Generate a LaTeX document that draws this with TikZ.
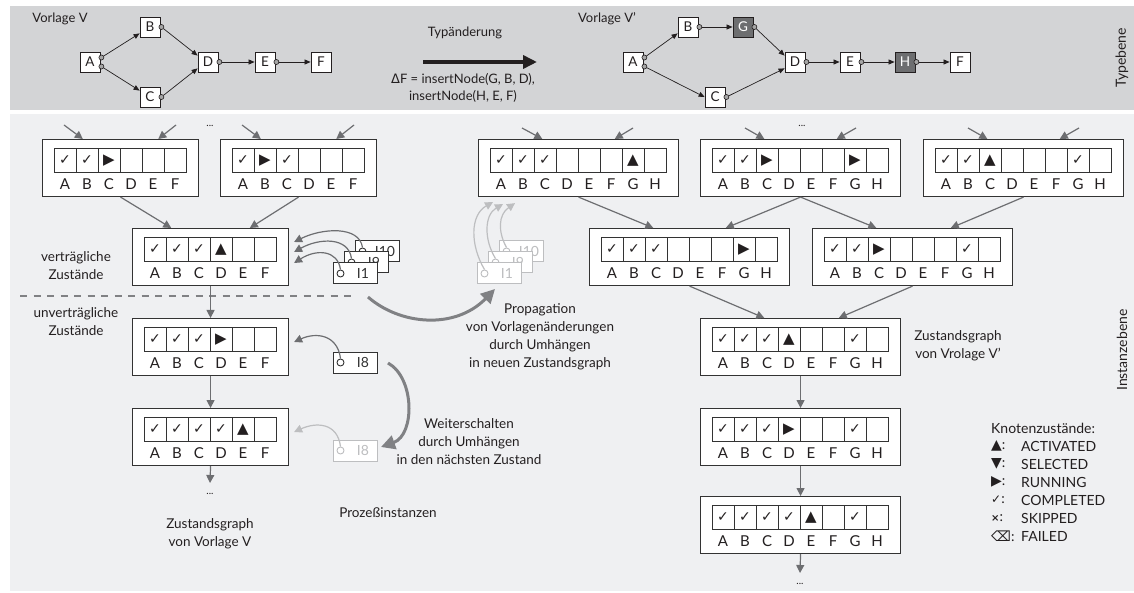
\documentclass[tikz,border=0pt]{standalone}
\usepackage{fontspec}
\setmainfont{Lato}
\newfontfamily\symf{DejaVu Sans}
\usetikzlibrary{arrows.meta,calc}

\definecolor{bandtop}{HTML}{D3D4D6}
\definecolor{bandlow}{HTML}{EFF0F2}
\definecolor{frame}{HTML}{333333}
\definecolor{conncol}{HTML}{6D6E71}
\definecolor{fade}{HTML}{BDBEC0}
\definecolor{bigcol}{HTML}{808184}
\definecolor{newnode}{HTML}{6D6E70}
\definecolor{ink}{HTML}{231F20}

% cell symbols of a state vector
\newcommand\zsc{{\symf\fontsize{14}{14}\selectfont ✓}}
\newcommand\zsr{{\symf\fontsize{15}{15}\selectfont ▶}}
\newcommand\zsa{{\symf\fontsize{15}{15}\selectfont ▲}}
\newcommand\zsn{}

\tikzset{
  stbox/.style={draw=frame, line width=1.1pt, fill=white, minimum height=57pt,
    inner sep=0pt, anchor=north west},
  cellline/.style={draw=frame, line width=0.8pt},
  letter/.style={font=\fontsize{15}{15}\selectfont, text=ink, inner sep=0pt},
  cellsym/.style={inner sep=0pt, text=ink},
  conn/.style={draw=conncol, line width=1.2pt, -{Triangle[length=8pt,width=8pt]}},
  ibox/.style={draw=frame, line width=1pt, fill=white, minimum width=44pt,
    minimum height=21pt, inner sep=0pt},
  iport/.style={circle, draw=frame, line width=0.9pt, fill=white,
    minimum size=7pt, inner sep=0pt},
  ilabel/.style={font=\fontsize{14}{14}\selectfont, inner sep=0pt},
  bigarrow/.style={draw=bigcol, line width=3pt, -{Triangle[length=14pt,width=14pt]}},
  tbox/.style={draw=ink, line width=0.8pt, fill=white, minimum size=20pt,
    inner sep=0pt, font=\fontsize{13.5}{13.5}\selectfont},
  tnew/.style={tbox, fill=newnode, text=white},
  tport/.style={circle, draw=ink, line width=0.6pt, fill=black!35,
    minimum size=5pt, inner sep=0pt},
  tconn/.style={draw=ink, line width=0.7pt, -{Triangle[length=6pt,width=5pt]}},
  lbl/.style={align=center, font=\fontsize{13.5}{18}\selectfont, text=ink},
  legend/.style={anchor=west, font=\fontsize{14}{14}\selectfont, text=ink, inner sep=0pt},
}

% state vector: name, top-left corner, width, list of symbol/letter pairs
\newcommand\zbox[4]{%
  \node[stbox, minimum width=#3pt] (#1) at (#2) {};
  \begin{scope}[shift={(#1.north west)}]
    \foreach \sy/\lt [count=\ci from 0] in {#4} {
      \draw[cellline] (12+22*\ci, 9.5) rectangle ++(22,23.5);
      \node[cellsym] at (23+22*\ci, 21.25) {\csname zs\sy\endcsname};
      \node[letter] at (23+22*\ci, 45) {\lt};
    }
  \end{scope}}

% process instance tag: name, centre, label, colour
\newcommand\instbox[4]{%
  \node[ibox, draw=#4] (#1) at (#2) {};
  \node[iport, draw=#4] (#1p) at ($(#1.west)+(8,0)$) {};
  \node[ilabel, text=#4] at ($(#1.center)+(8,0)$) {#3};}

\begin{document}
\begin{tikzpicture}[x=1pt, y=-1pt, text=ink]
\useasboundingbox (0,0) rectangle (1134,593);
\fill[bandtop] (10,6) rectangle (1134,110);
\fill[bandlow] (10,114) rectangle (1134,591);

% ---------- type level ----------
\node[font=\fontsize{13}{13}\selectfont] (tV) at (60,19) {Vorlage V};
\node[tbox] (A) at (90,62) {A};
\node[tbox] (B) at (150,27) {B};
\node[tbox] (C) at (150,97) {C};
\node[tbox] (D) at (208,62) {D};
\node[tbox] (E) at (265,62) {E};
\node[tbox] (F) at (321,62) {F};
\node[tport] (Ao1) at ($(A.east)+(1,-4.5)$) {};
\node[tport] (Ao2) at ($(A.east)+(1,4.5)$) {};
\node[tport] (Bo) at ($(B.east)+(1,0)$) {};
\node[tport] (Co) at ($(C.east)+(1,0)$) {};
\node[tport] (Do) at ($(D.east)+(1,0)$) {};
\node[tport] (Eo) at ($(E.east)+(1,0)$) {};
\draw[tconn] (Ao1) -- ($(B.south west)+(0,-4)$);
\draw[tconn] (Ao2) -- ($(C.north west)+(0,4)$);
\draw[tconn] (Bo) -- ($(D.north west)+(0,4)$);
\draw[tconn] (Co) -- ($(D.south west)+(0,-4)$);
\draw[tconn] (Do) -- (E);
\draw[tconn] (Eo) -- (F);

\node[font=\fontsize{13}{13}\selectfont] (tTyp) at (465,33) {Typänderung};
\coordinate (ta) at (423,62);
\coordinate (tb) at (537,62);
\draw[ink, line width=4pt, -{Triangle[length=14pt,width=13pt]}] (ta) -- (tb);
\node[align=center, font=\fontsize{13}{16.5}\selectfont] (tDF) at (463,88)
  {{\symf Δ}F = insertNode(G, B, D),\\insertNode(H, E, F)};

\node[font=\fontsize{13}{13}\selectfont] (tV2) at (607,19) {Vorlage V'};
\node[tbox] (A2) at (633,62) {A};
\node[tbox] (B2) at (688,27) {B};
\node[tnew] (G2) at (743,27) {G};
\node[tbox] (C2) at (715,97) {C};
\node[tbox] (D2) at (795,62) {D};
\node[tbox] (E2) at (850,62) {E};
\node[tnew] (H2) at (905,62) {H};
\node[tbox] (F2) at (960,62) {F};
\node[tport] (A2o1) at ($(A2.east)+(1,-4.5)$) {};
\node[tport] (A2o2) at ($(A2.east)+(1,4.5)$) {};
\node[tport] (B2o) at ($(B2.east)+(1,0)$) {};
\node[tport] (G2o) at ($(G2.east)+(1,0)$) {};
\node[tport] (C2o) at ($(C2.east)+(1,0)$) {};
\node[tport] (D2o) at ($(D2.east)+(1,0)$) {};
\node[tport] (E2o) at ($(E2.east)+(1,0)$) {};
\node[tport] (H2o) at ($(H2.east)+(1,0)$) {};
\draw[tconn] (A2o1) -- ($(B2.south west)+(0,-4)$);
\draw[tconn] (A2o2) -- (C2.west);
\draw[tconn] (B2o) -- (G2);
\draw[tconn] (G2o) -- ($(D2.north west)+(0,4)$);
\draw[tconn] (C2o) -- ($(D2.south west)+(0,-4)$);
\draw[tconn] (D2o) -- (E2);
\draw[tconn] (E2o) -- (H2);
\draw[tconn] (H2o) -- (F2);

\node[rotate=90, font=\fontsize{14}{14}\selectfont] (lvlT) at (1122,58) {Typebene};

% ---------- instance level ----------
\node[rotate=90, font=\fontsize{14}{14}\selectfont] (lvlI) at (1122,350) {Instanzebene};

% state graph of template V
\zbox{L1}{42,139}{156}{c/A,c/B,r/C,n/D,n/E,n/F}
\zbox{L1b}{220,139}{156}{c/A,r/B,c/C,n/D,n/E,n/F}
\zbox{L2}{132,228}{156}{c/A,c/B,c/C,a/D,n/E,n/F}
\zbox{L3}{132,318}{156}{c/A,c/B,c/C,r/D,n/E,n/F}
\zbox{L4}{132,408}{156}{c/A,c/B,c/C,c/D,a/E,n/F}

\node (dotsL) at (210,126) {...};
\coordinate (L1i1) at (64,125);
\coordinate (L1i2) at (176,125);
\coordinate (L1bi1) at (242,125);
\coordinate (L1bi2) at (354,125);
\draw[conn] (L1i1) -- ($(L1.north west)!0.26!(L1.north east)$);
\draw[conn] (L1i2) -- ($(L1.north west)!0.74!(L1.north east)$);
\draw[conn] (L1bi1) -- ($(L1b.north west)!0.26!(L1b.north east)$);
\draw[conn] (L1bi2) -- ($(L1b.north west)!0.74!(L1b.north east)$);
\draw[conn] (L1.south) -- ($(L2.north west)!0.25!(L2.north east)$);
\draw[conn] (L1b.south) -- ($(L2.north west)!0.75!(L2.north east)$);

\coordinate (dashA) at (20,296);
\coordinate (dashB) at (356,296);
\draw[bigcol, line width=2.5pt, dash pattern=on 7pt off 6.5pt] (dashA) -- (dashB);

\draw[conn] (L2.south) -- (L3.north);
\draw[conn] (L3.south) -- (L4.north);
\coordinate (L4out) at (210,483);
\draw[conn] (L4.south) -- (L4out);
\node (dotsL2) at (210,494) {...};

\node[lbl] (tvert) at (76,266) {verträgliche\\Zustände};
\node[lbl] (tunv) at (76,322) {unverträgliche\\Zustände};
\node[lbl] (tzgV) at (210,534) {Zustandsgraph\\von Vorlage V};
\node[lbl] (tpi) at (388,513) {Prozeßinstanzen};
\node[lbl] (tweiter) at (469,442) {Weiterschalten\\durch Umhängen\\in den nächsten Zustand};
\node[lbl] (tprop) at (540,337) {Propagation\\von Vorlagenänderungen\\durch Umhängen\\in neuen Zustandsgraph};

% instances bound to the compatible state
\instbox{I10}{377,251.5}{I10}{frame}
\draw[conn] (I10p.north) .. controls +(-3,-22) and +(28,-14) .. ($(L2.north east)+(5,14)$);
\instbox{I9}{366,262.5}{I9}{frame}
\draw[conn] (I9p.north) .. controls +(-3,-22) and +(25,-14) .. ($(L2.north east)+(5,24)$);
\instbox{I1}{355,273.5}{I1}{frame}
\draw[conn] (I1p.north) .. controls +(-3,-20) and +(22,-14) .. ($(L2.north east)+(5,35)$);

% instance I8 and its next position
\instbox{I8}{355,362.5}{I8}{frame}
\draw[conn] (I8p.north) .. controls +(-3,-24) and +(22,-10) .. ($(L3.north east)+(5,24)$);
\instbox{I8f}{355,450.5}{I8}{fade}
\draw[conn, draw=fade] (I8fp.north) .. controls +(-3,-24) and +(22,-10) .. ($(L4.north east)+(5,24)$);
\coordinate (wsA) at (388,363);
\coordinate (wsB) at (381,447);
\draw[bigarrow] (wsA) .. controls (415,378) and (415,435) .. (wsB);

% state graph of template V'
\zbox{R1}{478,139}{200}{c/A,c/B,c/C,n/D,n/E,n/F,a/G,n/H}
\zbox{R2}{700,139}{200}{c/A,c/B,r/C,n/D,n/E,n/F,r/G,n/H}
\zbox{R3}{923,139}{200}{c/A,c/B,a/C,n/D,n/E,n/F,c/G,n/H}
\zbox{R4}{589,228}{200}{c/A,c/B,c/C,n/D,n/E,n/F,r/G,n/H}
\zbox{R5}{812,228}{200}{c/A,c/B,r/C,n/D,n/E,n/F,c/G,n/H}
\zbox{R6}{700,318}{200}{c/A,c/B,c/C,a/D,n/E,n/F,c/G,n/H}
\zbox{R7}{700,408}{200}{c/A,c/B,c/C,r/D,n/E,n/F,c/G,n/H}
\zbox{R8}{700,496}{200}{c/A,c/B,c/C,c/D,a/E,n/F,c/G,n/H}

\node (dotsR) at (802,126) {...};
\coordinate (R1i1) at (522,128);
\coordinate (R1i2) at (633,128);
\coordinate (R2i1) at (745,128);
\coordinate (R2i2) at (856,128);
\coordinate (R3i1) at (968,128);
\coordinate (R3i2) at (1079,128);
\draw[conn] (R1i1) -- ($(R1.north west)!0.32!(R1.north east)$);
\draw[conn] (R1i2) -- ($(R1.north west)!0.68!(R1.north east)$);
\draw[conn] (R2i1) -- ($(R2.north west)!0.32!(R2.north east)$);
\draw[conn] (R2i2) -- ($(R2.north west)!0.68!(R2.north east)$);
\draw[conn] (R3i1) -- ($(R3.north west)!0.32!(R3.north east)$);
\draw[conn] (R3i2) -- ($(R3.north west)!0.68!(R3.north east)$);
\draw[conn] (R1.south) -- ($(R4.north west)!0.32!(R4.north east)$);
\draw[conn] (R2.south) -- ($(R4.north west)!0.68!(R4.north east)$);
\draw[conn] (R2.south) -- ($(R5.north west)!0.32!(R5.north east)$);
\draw[conn] (R3.south) -- ($(R5.north west)!0.69!(R5.north east)$);
\draw[conn] (R4.south) -- ($(R6.north west)!0.32!(R6.north east)$);
\draw[conn] (R5.south) -- ($(R6.north west)!0.69!(R6.north east)$);
\draw[conn] (R6.south) -- (R7.north);
\draw[conn] (R7.south) -- (R8.north);
\coordinate (R8out) at (800,573);
\draw[conn] (R8.south) -- (R8out);
\node (dotsR2) at (800,584) {...};

\node[lbl] (tzgV2) at (958,346) {Zustandsgraph\\von Vrolage V'};

% propagated instances (faded)
\instbox{I10f}{521,251.5}{I10}{fade}
\draw[conn, draw=fade] (I10fp.north) .. controls (498,232) and (498,215) .. ($(R1.south west)+(37,6)$);
\instbox{I9f}{510,262.5}{I9}{fade}
\draw[conn, draw=fade] (I9fp.north) .. controls (484,240) and (484,215) .. ($(R1.south west)+(25,7)$);
\instbox{I1f}{499,273.5}{I1}{fade}
\draw[conn, draw=fade] (I1fp.north) .. controls (470,245) and (470,215) .. ($(R1.south west)+(15,5)$);

\coordinate (prA) at (368,297);
\coordinate (prB) at (495,289);
\draw[bigarrow] (prA) .. controls (400,325) and (455,330) .. (prB);

% legend of node states
\node[legend] (lg0) at (991,428) {Knotenzustände:};
\node[legend] (lg1s) at (991,446) {{\symf\fontsize{14}{14}\selectfont ▲}:};
\node[legend] (lg1) at (1021,446) {ACTIVATED};
\node[legend] (lg2s) at (991,464) {{\symf\fontsize{14}{14}\selectfont ▼}:};
\node[legend] (lg2) at (1021,464) {SELECTED};
\node[legend] (lg3s) at (991,482) {{\symf\fontsize{14}{14}\selectfont ▶}:};
\node[legend] (lg3) at (1021,482) {RUNNING};
\node[legend] (lg4s) at (991,500) {{\symf\fontsize{12}{12}\selectfont ✓}:};
\node[legend] (lg4) at (1021,500) {COMPLETED};
\node[legend] (lg5s) at (991,518) {{\symf\bfseries\fontsize{10}{10}\selectfont ×}:};
\node[legend] (lg5) at (1021,518) {SKIPPED};
\node[legend] (lg6s) at (991,536) {{\symf\fontsize{14}{14}\selectfont ⌫}:};
\node[legend] (lg6) at (1021,536) {FAILED};
\end{tikzpicture}
\end{document}
